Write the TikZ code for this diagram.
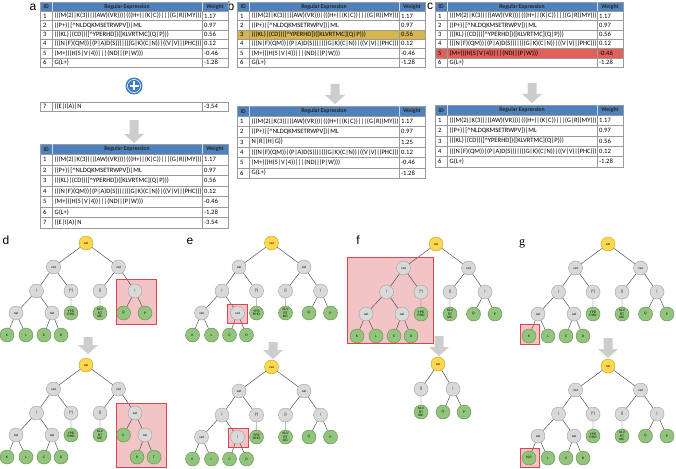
\documentclass[tikz,border=0pt]{standalone}
\usepackage{fontspec}
\setmainfont{Carlito}
\newfontfamily\lblfont{Liberation Sans}
\newfontfamily\lblserif{Liberation Serif}
\newfontfamily\nodefont{Liberation Sans}
\definecolor{hdrblue}{HTML}{4F81BD}
\definecolor{gridgray}{HTML}{9A9A9A}
\definecolor{goldhl}{HTML}{D6B54C}
\definecolor{redhl}{HTML}{E0605A}
\definecolor{ndgray}{HTML}{D9D9D9}
\definecolor{ndgrayb}{HTML}{9E9E9E}
\definecolor{ndyel}{HTML}{FFD84D}
\definecolor{ndyelb}{HTML}{BF9B2A}
\definecolor{ndgrn}{HTML}{93C47D}
\definecolor{ndgrnb}{HTML}{5E8F47}
\definecolor{boxred}{HTML}{D9464B}
\definecolor{boxfill}{HTML}{F2C4C6}
\definecolor{plusblue}{HTML}{3C7DC4}
\definecolor{arrgray}{HTML}{CDCDCD}
\tikzset{
  tnode/.style={circle, minimum size=14pt, inner sep=0pt, line width=0.4pt,
    font=\nodefont\fontsize{3.3}{3.5}\selectfont, align=center},
  gnode/.style={tnode, fill=ndgray, draw=ndgrayb},
  ynode/.style={tnode, fill=ndyel, draw=ndyelb},
  lnode/.style={tnode, fill=ndgrn, draw=ndgrnb},
  edge/.style={draw=black!72, line width=0.45pt},
  hlbox/.style={fill=boxfill, draw=boxred, line width=0.8pt},
  cellt/.style={inner sep=0pt, anchor=west, font=\fontsize{6.6}{7}\selectfont},
  hdrt/.style={inner sep=0pt, font=\bfseries\fontsize{5.8}{6.5}\selectfont, text=black!85},
  paneltag/.style={inner sep=0pt, font=\lblfont\fontsize{12}{12}\selectfont},
  grid/.style={draw=gridgray, line width=0.4pt}
}
% regex texts
\newcommand\rxA{(((M(2)|K(3))|((AW)(VR)))|(((H+)|(K|C))|||(G|R)(MY)))}
\newcommand\rxB{((P+)|[\textasciicircum NLDQKMSETRWPV])|ML}
\newcommand\rxC{(((KL)|(CD))([\textasciicircum YPERHD])([KLVRTMC](Q|P)))}
\newcommand\rxD{(((N|F)(QM))|(P|A)D(S)))|(((G|K)(C|N))|((V|V)|(PHC)))}
\newcommand\rxE{(M+)((H(5|V|4))|||(ND)|(P|W)))}
\newcommand\rxF{G(L+)}
\newcommand\rxG{((E|I)A)|N}
\newcommand\rxH{N|R|(H|G))}
% table header: name, x, y, h
\newcommand\thead[4]{%
  \path[fill=hdrblue, grid] (#2,#3) rectangle ({#2+188},{#3+#4});
  \draw[white!70!hdrblue, line width=0.4pt] ({#2+12.5},#3) -- ({#2+12.5},{#3+#4}) ({#2+162},#3) -- ({#2+162},{#3+#4});
  \node[hdrt] (#1i) at ({#2+6.25},{#3+#4/2}) {ID};
  \node[hdrt] (#1r) at ({#2+87},{#3+#4/2}) {Regular Expression};
  \node[hdrt] (#1w) at ({#2+175},{#3+#4/2}) {Weight};
}
% table row: name, x, y, h, id, regex, weight, fill
\newcommand\trow[8]{%
  \path[fill=#8, grid] (#2,#3) rectangle ({#2+188},{#3+#4});
  \draw[grid] ({#2+12.5},#3) -- ({#2+12.5},{#3+#4}) ({#2+162},#3) -- ({#2+162},{#3+#4});
  \node[cellt] (#1i) at ({#2+3},{#3+#4/2}) {#5};
  \node[cellt] (#1r) at ({#2+14.5},{#3+#4/2}) {#6};
  \node[cellt] (#1w) at ({#2+164},{#3+#4/2}) {#7};
}
% block arrow: cx, ytop, ybottom
\newcommand\garrow[3]{%
  \fill[arrgray] ({#1-4.5},#2) -- ({#1+4.5},#2) -- ({#1+4.5},{#3-9}) -- ({#1+10},{#3-9})
    -- (#1,#3) -- ({#1-10},{#3-9}) -- ({#1-4.5},{#3-9}) -- cycle;
}
% common tree part: prefix, cx, cy, label of second L4 node, label of first leaf
\newcommand\treebase[5]{%
  \node[ynode] (#1r) at (#2,#3) {cat};
  \node[gnode] (#1a) at ({#2-32.5},{#3+24}) {cat};
  \node[gnode] (#1b) at ({#2+32.5},{#3+24}) {cat};
  \node[gnode] (#1c) at ({#2-49.5},{#3+48}) {|};
  \node[gnode] (#1d) at ({#2-15},{#3+48}) {[\textasciicircum]};
  \node[gnode] (#1e) at ({#2+14},{#3+48}) {[]};
  \node[gnode] (#1g) at ({#2-70},{#3+70}) {cat};
  \node[gnode] (#1h) at ({#2-34},{#3+70}) {#4};
  \node[lnode] (#1i) at ({#2-15},{#3+70}) {YPE\\RHD};
  \node[lnode] (#1j) at ({#2+14},{#3+70}) {KLV\\RT\\MC};
  \node[lnode] (#1k) at ({#2-79},{#3+92}) {#5};
  \node[lnode] (#1l) at ({#2-60},{#3+92}) {L};
  \node[lnode] (#1m) at ({#2-42},{#3+92}) {C};
  \node[lnode] (#1n) at ({#2-25},{#3+92}) {D};
  \draw[edge] (#1r)--(#1a) (#1r)--(#1b) (#1a)--(#1c) (#1a)--(#1d) (#1b)--(#1e)
    (#1c)--(#1g) (#1c)--(#1h) (#1d)--(#1i) (#1e)--(#1j)
    (#1g)--(#1k) (#1g)--(#1l) (#1h)--(#1m) (#1h)--(#1n);
}
\newcommand\qpsub[3]{%
  \node[gnode] (#1f) at ({#2+49},{#3+48}) {|};
  \node[lnode] (#1q) at ({#2+37.5},{#3+70}) {Q};
  \node[lnode] (#1p) at ({#2+59},{#3+70}) {P};
  \draw[edge] (#1b)--(#1f) (#1f)--(#1q) (#1f)--(#1p);
}
\begin{document}
\begin{tikzpicture}[x=1pt,y=-1pt]
\useasboundingbox[fill=white] (0,0) rectangle (676,468);

% ---------- panel labels ----------
\node[paneltag] (la) at (33,7) {a};
\node[paneltag] (lb) at (231,6) {b};
\node[paneltag] (lc) at (430,6) {c};
\node[paneltag] (ld) at (6,240) {d};
\node[paneltag] (le) at (190,241) {e};
\node[paneltag] (lf) at (358,240) {f};
\node[inner sep=0pt, font=\lblserif\fontsize{12}{12}\selectfont] (lg) at (522,244) {g};

% ---------- panel a ----------
\thead{aTh}{40}{2}{9.3}
\trow{aT1}{40}{11.3}{9.3}{1}{\rxA}{1.17}{white}
\trow{aT2}{40}{20.6}{9.3}{2}{\rxB}{0.97}{white}
\trow{aT3}{40}{29.9}{9.3}{3}{\rxC}{0.56}{white}
\trow{aT4}{40}{39.2}{9.3}{4}{\rxD}{0.12}{white}
\trow{aT5}{40}{48.5}{9.3}{5}{\rxE}{-0.46}{white}
\trow{aT6}{40}{57.8}{9.3}{6}{\rxF}{-1.28}{white}

\node[circle, fill=plusblue, minimum size=17pt, inner sep=0pt] (plus) at (134,86) {};
\draw[white, line width=0.5pt] (plus.center) circle (6.6pt);
\draw[white, line width=1.8pt] ([xshift=-4.5pt]plus.center) -- ([xshift=4.5pt]plus.center)
  ([yshift=-4.5pt]plus.center) -- ([yshift=4.5pt]plus.center);

\trow{a7}{40}{102}{9.3}{7}{\rxG}{-3.54}{white}
\garrow{134}{120}{143}

\thead{aBh}{40}{144}{10.5}
\trow{aB1}{40}{154.5}{10.5}{1}{\rxA}{1.17}{white}
\trow{aB2}{40}{165}{10.5}{2}{\rxB}{0.97}{white}
\trow{aB3}{40}{175.5}{10.5}{3}{\rxC}{0.56}{white}
\trow{aB4}{40}{186}{10.5}{4}{\rxD}{0.12}{white}
\trow{aB5}{40}{196.5}{10.5}{5}{\rxE}{-0.46}{white}
\trow{aB6}{40}{207}{10.5}{6}{\rxF}{-1.28}{white}
\trow{aB7}{40}{217.5}{10.5}{7}{\rxG}{-3.54}{white}

% ---------- panel b ----------
\thead{bTh}{237}{2}{9.3}
\trow{bT1}{237}{11.3}{9.3}{1}{\rxA}{1.17}{white}
\trow{bT2}{237}{20.6}{9.3}{2}{\rxB}{0.97}{white}
\trow{bT3}{237}{29.9}{9.3}{3}{\rxC}{0.56}{goldhl}
\trow{bT4}{237}{39.2}{9.3}{4}{\rxD}{0.12}{white}
\trow{bT5}{237}{48.5}{9.3}{5}{\rxE}{-0.46}{white}
\trow{bT6}{237}{57.8}{9.3}{6}{\rxF}{-1.28}{white}
\garrow{335}{84}{104}
\thead{bBh}{237}{106}{10.3}
\trow{bB1}{237}{116.3}{10.3}{1}{\rxA}{1.17}{white}
\trow{bB2}{237}{126.6}{10.3}{2}{\rxB}{0.97}{white}
\trow{bB3}{237}{136.9}{10.3}{3}{\rxH}{1.25}{white}
\trow{bB4}{237}{147.2}{10.3}{4}{\rxD}{0.12}{white}
\trow{bB5}{237}{157.5}{10.3}{5}{\rxE}{-0.46}{white}
\trow{bB6}{237}{167.8}{10.3}{6}{\rxF}{-1.28}{white}

% ---------- panel c ----------
\thead{cTh}{435}{2}{9.3}
\trow{cT1}{435}{11.3}{9.3}{1}{\rxA}{1.17}{white}
\trow{cT2}{435}{20.6}{9.3}{2}{\rxB}{0.97}{white}
\trow{cT3}{435}{29.9}{9.3}{3}{\rxC}{0.56}{white}
\trow{cT4}{435}{39.2}{9.3}{4}{\rxD}{0.12}{white}
\trow{cT5}{435}{48.5}{9.3}{5}{\rxE}{-0.46}{redhl}
\trow{cT6}{435}{57.8}{9.3}{6}{\rxF}{-1.28}{white}
\garrow{532}{83}{103}
\thead{cBh}{435}{105}{10.3}
\trow{cB1}{435}{115.3}{10.3}{1}{\rxA}{1.17}{white}
\trow{cB2}{435}{125.6}{10.3}{2}{\rxB}{0.97}{white}
\trow{cB3}{435}{135.9}{10.3}{3}{\rxC}{0.56}{white}
\trow{cB4}{435}{146.2}{10.3}{4}{\rxD}{0.12}{white}
\trow{cB5}{435}{156.5}{10.3}{6}{\rxF}{-1.28}{white}

% ---------- highlight boxes (behind trees) ----------
\path[hlbox] (116,279) rectangle (156,324);
\path[hlbox] (116,403) rectangle (166,467);
\path[hlbox] (227.5,304) rectangle (247.5,323);
\path[hlbox] (228,428) rectangle (248,447);
\path[hlbox] (347,257) rectangle (433,343);
\path[hlbox] (520,324.5) rectangle (539,344);
\path[hlbox] (520,448) rectangle (539,467.4);

% ---------- panel d ----------
\treebase{d1}{86}{243}{cat}{K}
\qpsub{d1}{86}{243}
\garrow{88}{337}{354}
\treebase{d2}{86}{365}{cat}{K}
\node[gnode] (d2f) at (135,413) {cat};
\node[lnode] (d2q) at (123.5,435) {K};
\node[gnode] (d2s) at (145,435) {cat};
\node[lnode] (d2u) at (137,457) {R};
\node[lnode] (d2v) at (154,457) {T};
\draw[edge] (d2b)--(d2f) (d2f)--(d2q) (d2f)--(d2s) (d2s)--(d2u) (d2s)--(d2v);

% ---------- panel e ----------
\treebase{e1}{271.5}{243}{cat}{K}
\qpsub{e1}{271.5}{243}
\garrow{273}{342}{359}
\treebase{e2}{271.5}{367}{|}{K}
\qpsub{e2}{271.5}{367}

% ---------- panel f ----------
\treebase{f1}{436}{244}{cat}{K}
\qpsub{f1}{436}{244}
\garrow{439}{336}{356}
\node[ynode] (f2r) at (438,364) {cat};
\node[gnode] (f2e) at (421,389) {[]};
\node[gnode] (f2f) at (453,389) {|};
\node[lnode] (f2j) at (421,412) {KLV\\RT\\MC};
\node[lnode] (f2q) at (443,412) {Q};
\node[lnode] (f2p) at (464,412) {P};
\draw[edge] (f2r)--(f2e) (f2r)--(f2f) (f2e)--(f2j) (f2f)--(f2q) (f2f)--(f2p);

% ---------- panel g ----------
\treebase{g1}{608}{244}{cat}{K}
\qpsub{g1}{608}{244}
\garrow{608}{338}{358}
\treebase{g2}{608}{366}{cat}{K|R}
\qpsub{g2}{608}{366}

% box borders on top
\draw[boxred, line width=0.8pt] (116,279) rectangle (156,324) (116,403) rectangle (166,467)
  (227.5,304) rectangle (247.5,323) (228,428) rectangle (248,447) (347,257) rectangle (433,343)
  (520,324.5) rectangle (539,344) (520,448) rectangle (539,467.4);
\end{tikzpicture}
\end{document}
